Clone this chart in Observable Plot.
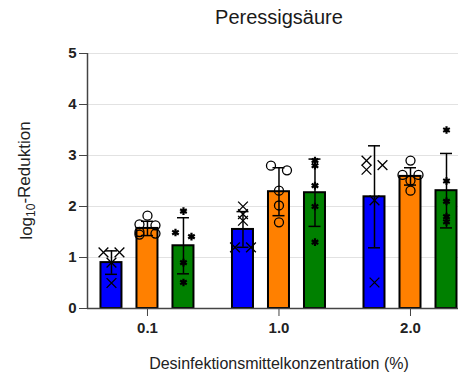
<!DOCTYPE html>
<html><head><meta charset="utf-8">
<script src="https://cdn.jsdelivr.net/npm/d3@7"></script>
<script src="https://cdn.jsdelivr.net/npm/@observablehq/plot@0.6"></script>
<style>
html,body{margin:0;padding:0;background:#fff;overflow:hidden}
</style></head><body><div id="chart"></div>
<script>
// ---- data ----
const groups = ["0.1", "1.0", "2.0"];
const series = ["Serie 1", "Serie 2", "Serie 3"];
const seriesColors = ["#0000ff", "#ff8000", "#008000"];
const seriesSymbols = ["times", "circle", "asterisk"];
const meanBlue = [0.90, 1.55, 2.19];
const meanOrange = [1.57, 2.29, 2.59];
const meanGreen = [1.23, 2.27, 2.31];
const sdBlue = [0.23, 0.35, 1.00];
const sdOrange = [0.14, 0.47, 0.17];
const sdGreen = [0.55, 0.66, 0.73];
const ptsBlue = [[1.10, 1.10, 0.90, 0.50], [2.00, 1.85, 1.72, 1.20, 1.20], [2.90, 2.81, 2.72, 2.12, 0.51]];
const ptsOrange = [[1.82, 1.65, 1.63, 1.50, 1.47, 1.45], [2.80, 2.71, 2.31, 2.02, 1.69], [2.90, 2.62, 2.62, 2.51, 2.31]];
const ptsGreen = [[1.91, 1.49, 1.41, 0.90, 0.51], [2.90, 2.80, 2.41, 2.00, 1.30], [3.50, 2.50, 2.10, 1.80, 1.70]];
const yTicks = [0, 1, 2, 3, 4, 5];
const titleText = "Peressigsäure";
const xLabelText = "Desinfektionsmittelkonzentration (%)";

// ---- layout ----
const W = 458, H = 372, mL = 87, mR = 0, mT = 53, mB = 64;
const xDomain = [-0.456, 2.365];
const k = (W - mL - mR) / (xDomain[1] - xDomain[0]); // px per group unit
const offsetPx = [-36, 0, 36], barHalfPx = 10.5, capHalfPx = 6, jitterPx = 8;

const means = [meanBlue, meanOrange, meanGreen];
const sds = [sdBlue, sdOrange, sdGreen];
const pts = [ptsBlue, ptsOrange, ptsGreen];

const bars = [];
const points = [];
series.forEach((s, si) => {
  groups.forEach((g, gi) => {
    const x = gi + offsetPx[si] / k;
    const m = means[si][gi], sd = sds[si][gi];
    bars.push({series: s, group: g, x, mean: m, lo: m - sd, hi: m + sd});
    const vals = pts[si][gi].slice().sort((a, b) => b - a);
    let cluster = [vals[0]];
    const flush = () => {
      cluster.forEach((v, j) => {
        const off = cluster.length === 1 ? 0 : (j % 2 === 0 ? -jitterPx : jitterPx);
        points.push({series: s, group: g, x: x + off / k, y: v});
      });
    };
    for (let i = 1; i < vals.length; i++) {
      if (cluster[cluster.length - 1] - vals[i] <= 0.095) cluster.push(vals[i]);
      else { flush(); cluster = [vals[i]]; }
    }
    flush();
  });
});

const plot = Plot.plot({
  width: W, height: H,
  marginLeft: mL, marginRight: mR, marginTop: mT, marginBottom: mB,
  style: {fontFamily: "'Liberation Sans', Arial, sans-serif", color: "#222", background: "#fff", fontSize: "15px"},
  x: {domain: xDomain},
  y: {domain: [0, 5]},
  color: {domain: series, range: seriesColors},
  symbol: {domain: series, range: seriesSymbols},
  marks: [
    Plot.ruleY(yTicks.filter(t => t > 0), {stroke: "#e2e2e2", strokeWidth: 1}),
    Plot.rect(bars, {x1: d => d.x - barHalfPx / k, x2: d => d.x + barHalfPx / k, y1: 0, y2: "mean",
      fill: "series", stroke: "black", strokeWidth: 2}),
    Plot.ruleX(bars, {x: "x", y1: "lo", y2: "hi", stroke: "black", strokeWidth: 1.5}),
    Plot.ruleY(bars, {y: "hi", x1: d => d.x - capHalfPx / k, x2: d => d.x + capHalfPx / k, stroke: "black", strokeWidth: 1.5}),
    Plot.ruleY(bars, {y: "lo", x1: d => d.x - capHalfPx / k, x2: d => d.x + capHalfPx / k, stroke: "black", strokeWidth: 1.5}),
    Plot.dot(points.filter(d => d.series !== series[2]), {x: "x", y: "y", symbol: "series", stroke: "black", fill: "none", r: 4.5, strokeWidth: 1.3}),
    Plot.dot(points.filter(d => d.series === series[2]), {x: "x", y: "y", symbol: "series", stroke: "black", fill: "none", r: 3.6, strokeWidth: 2.2}),
    Plot.ruleY([0], {stroke: "#444", strokeWidth: 1.5}),
    Plot.ruleX([xDomain[0]], {y1: 0, y2: 5, stroke: "#444", strokeWidth: 1.5}),
    Plot.axisY({ticks: yTicks, tickFormat: d => String(d), tickSize: 8, tickPadding: 3, label: null, stroke: "#444", fontSize: 15, fontWeight: "bold"}),
    Plot.axisX({ticks: [0, 1, 2], tickFormat: i => groups[i], tickSize: 8, tickPadding: 6, label: null, stroke: "#444", fontSize: 15, fontWeight: "bold"}),
    Plot.text([{t: titleText, x: 1}], {x: "x", text: "t", frameAnchor: "top", lineAnchor: "middle", dy: -36, fontSize: 20, fontWeight: "normal", fill: "#1a1a1a"}),
    Plot.text([{t: xLabelText, x: 1}], {x: "x", text: "t", frameAnchor: "bottom", lineAnchor: "middle", dy: 55, fontSize: 16, fontWeight: "normal", fill: "#222"})
  ]
});
document.getElementById("chart").append(plot);

// y-axis label with subscript
const svg = d3.select(plot);
const yl = svg.append("text")
  .attr("transform", `translate(28,${(mT + (H - mB)) / 2}) rotate(-90)`)
  .attr("text-anchor", "middle")
  .attr("dominant-baseline", "middle")
  .attr("font-family", "'Liberation Sans', Arial, sans-serif")
  .attr("font-size", 17)
  .attr("font-weight", "normal")
  .attr("fill", "#222");
yl.append("tspan").text("log");
yl.append("tspan").attr("font-size", 12).attr("dy", "0.35em").text("10");
yl.append("tspan").attr("dy", "-0.35em").text("-Reduktion");
</script></body></html>
